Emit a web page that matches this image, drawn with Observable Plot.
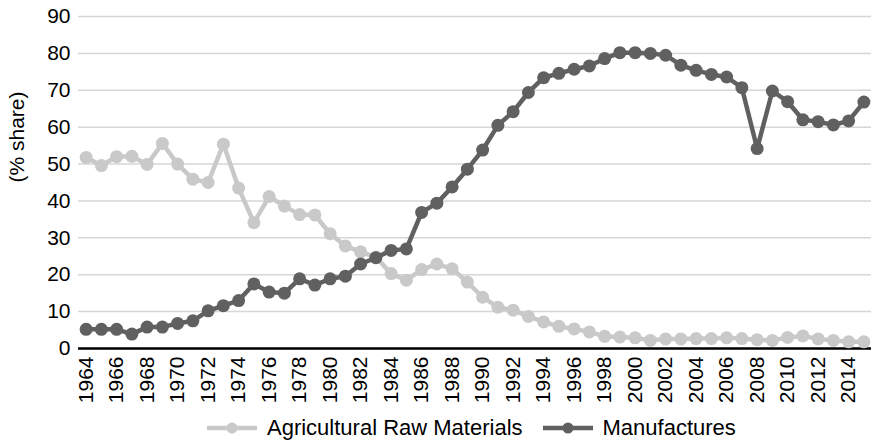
<!DOCTYPE html>
<html>
<head>
<meta charset="utf-8">
<script src="https://cdn.jsdelivr.net/npm/d3@7"></script>
<script src="https://cdn.jsdelivr.net/npm/@observablehq/plot@0.6"></script>
<style>
  body { margin: 0; background: #fff; font-family: "Liberation Sans", Arial, sans-serif; }
  #wrap { position: relative; width: 871px; height: 443px; }
  #legend { position: absolute; left: 0; top: 410px; height: 36px; display: flex; align-items: center; font-size: 22px; color: #000; }
  .item { display: flex; align-items: center; }
  .item svg { margin-right: 10px; }
</style>
</head>
<body>
<div id="wrap">
  <div id="chart"></div>
  <div id="legend"></div>
</div>
<script>
const years = d3.range(1964, 2016);
const seriesNames = ["Agricultural Raw Materials", "Manufactures"];
const agriculturalRawMaterials = [
  51.8, 49.6, 52.0, 52.1, 49.9, 55.6, 50.0, 45.9, 45.0, 55.4,
  43.5, 34.1, 41.2, 38.6, 36.3, 36.2, 31.1, 27.8, 26.2, 24.8,
  20.3, 18.5, 21.4, 22.9, 21.6, 18.0, 13.9, 11.2, 10.4, 8.7,
  7.2, 6.0, 5.3, 4.5, 3.3, 3.1, 2.9, 2.2, 2.6, 2.6,
  2.7, 2.7, 2.9, 2.7, 2.4, 2.2, 3.0, 3.4, 2.6, 2.2,
  1.8, 1.8
];
const manufactures = [
  5.2, 5.2, 5.2, 3.9, 5.8, 5.8, 6.8, 7.5, 10.2, 11.6,
  13.0, 17.5, 15.3, 15.0, 18.9, 17.2, 18.9, 19.6, 22.9, 24.6,
  26.6, 27.0, 36.9, 39.4, 43.8, 48.6, 53.8, 60.5, 64.2, 69.4,
  73.4, 74.6, 75.7, 76.6, 78.6, 80.2, 80.2, 80.0, 79.5, 76.8,
  75.4, 74.3, 73.6, 70.7, 54.2, 69.8, 66.9, 62.0, 61.5, 60.6,
  61.7, 66.8
];
const xTicks = d3.range(1964, 2015, 2);
const yTicks = d3.range(0, 91, 10);
const colors = ["#c9c9c9", "#606060"];

const agriData = years.map((y, i) => ({year: y, value: agriculturalRawMaterials[i], series: seriesNames[0]}));
const manuData = years.map((y, i) => ({year: y, value: manufactures[i], series: seriesNames[1]}));

const chart = Plot.plot({
  width: 871,
  height: 410,
  marginLeft: 78,
  marginRight: 0,
  marginTop: 16,
  marginBottom: 62,
  style: {fontFamily: "'Liberation Sans', Arial, sans-serif", color: "#000", background: "#fff"},
  x: {domain: [1963.5, 2015.5]},
  y: {domain: [0, 90]},
  marks: [
    Plot.gridY(yTicks.filter(d => d > 0), {stroke: "#d6d6d6", strokeOpacity: 1, strokeWidth: 1.5}),
    Plot.axisY(yTicks, {tickSize: 0, tickPadding: 8, fontSize: 21, label: null}),
    Plot.axisX(xTicks, {tickSize: 0, tickPadding: 8, tickRotate: -90, fontSize: 21, label: null, tickFormat: d => String(d)}),
    Plot.text(["(% share)"], {text: d => d, frameAnchor: "left", dx: -61, rotate: -90, fontSize: 21}),
    Plot.ruleY([0], {stroke: "#000", strokeWidth: 2.5}),
    Plot.line(agriData, {x: "year", y: "value", stroke: colors[0], strokeWidth: 4.5}),
    Plot.dot(agriData, {x: "year", y: "value", fill: colors[0], r: 6.5}),
    Plot.line(manuData, {x: "year", y: "value", stroke: colors[1], strokeWidth: 4.5}),
    Plot.dot(manuData, {x: "year", y: "value", fill: colors[1], r: 6.5})
  ]
});
document.getElementById("chart").appendChild(chart);

const legend = document.getElementById("legend");
legend.style.paddingLeft = "207px";
seriesNames.forEach((name, i) => {
  const item = document.createElement("div");
  item.className = "item";
  if (i > 0) item.style.marginLeft = "20px";
  item.innerHTML = `<svg width="50" height="16"><line x1="0" y1="8" x2="50" y2="8" stroke="${colors[i]}" stroke-width="4.5"/><circle cx="25" cy="8" r="5.5" fill="${colors[i]}"/></svg><span>${name}</span>`;
  legend.appendChild(item);
});
</script>
</body>
</html>
